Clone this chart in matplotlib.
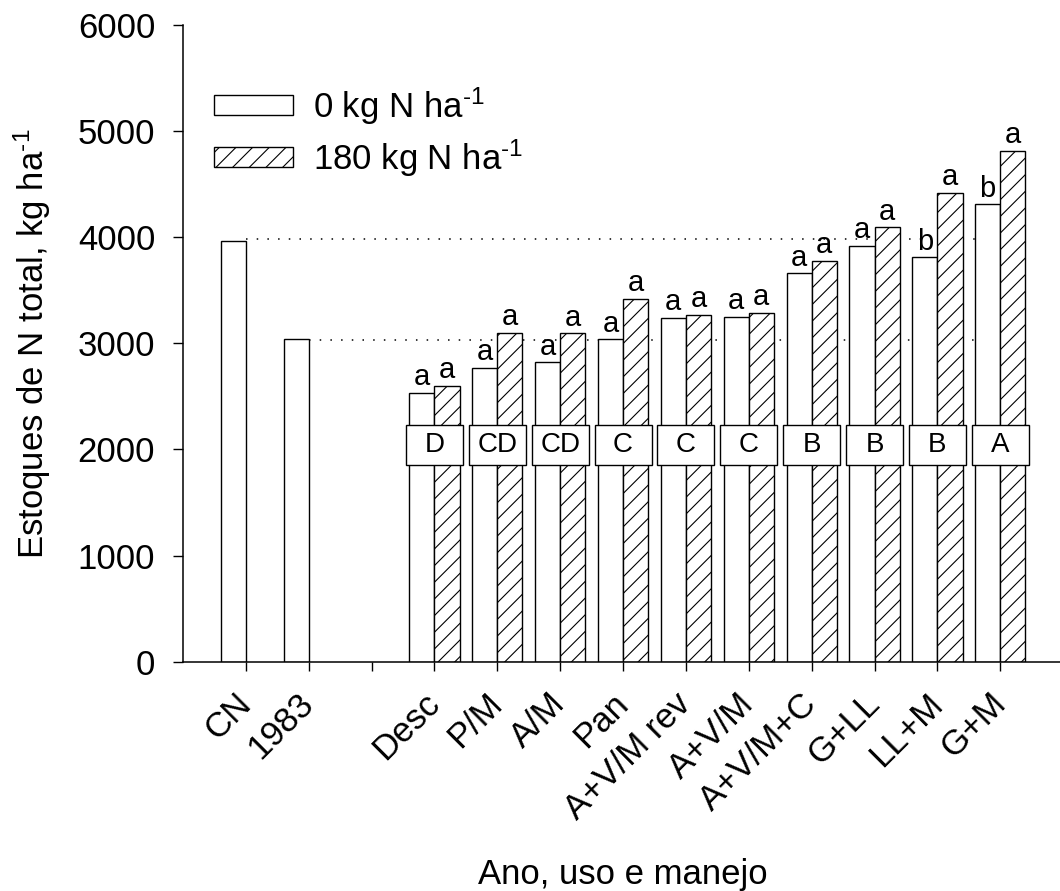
import matplotlib
matplotlib.use('Agg')
import matplotlib.pyplot as plt
from matplotlib.patches import Rectangle
import numpy as np

plt.rcParams['font.family'] = ['Liberation Sans', 'DejaVu Sans']
plt.rcParams['mathtext.fontset'] = 'custom'
plt.rcParams['mathtext.rm'] = 'Liberation Sans'
plt.rcParams['mathtext.it'] = 'Liberation Sans:italic'
plt.rcParams['hatch.linewidth'] = 0.8

FS = 25

# reference stocks: native field and 1983 baseline
ref_labels = ['CN', '1983']
ref_values = [3960, 3045]
ref_levels = [3985, 3035]

# land use / management systems
systems = ['Desc', 'P/M', 'A/M', 'Pan', 'A+V/M rev', 'A+V/M',
           'A+V/M+C', 'G+LL', 'LL+M', 'G+M']
n0 = [2535, 2770, 2820, 3040, 3240, 3250, 3660, 3920, 3810, 4310]
n180 = [2600, 3100, 3095, 3420, 3270, 3290, 3780, 4095, 4420, 4815]
letters_n0 = ['a', 'a', 'a', 'a', 'a', 'a', 'a', 'a', 'b', 'b']
letters_n180 = ['a'] * 10
group_letters = ['D', 'CD', 'CD', 'C', 'C', 'C', 'B', 'B', 'B', 'A']

tick_labels = ref_labels + [''] + systems
unit = r'ha$^{\text{-1}}$'

fig = plt.figure(figsize=(10.6, 8.91), dpi=100)
ax = fig.add_axes([0.1726, 0.2573, 0.8274, 0.7147])

w = 0.4
x_ref = np.arange(len(ref_labels))
x_sys = np.arange(len(systems)) + len(ref_labels) + 1

bar_kw = dict(width=w, edgecolor='black', linewidth=1.0, zorder=2)
ax.bar(x_ref - w / 2, ref_values, facecolor='white', **bar_kw)
b0 = ax.bar(x_sys - w / 2, n0, facecolor='white', label='0 kg N ' + unit, **bar_kw)
b1 = ax.bar(x_sys + w / 2, n180, facecolor='white', hatch='//',
            label='180 kg N ' + unit, **bar_kw)

# dotted reference lines from the CN and 1983 bars
for xi, lvl in zip(x_ref, ref_levels):
    ax.plot([xi, x_sys[-1] + 0.4], [lvl, lvl], color='black', lw=1.1,
            linestyle=(0, (1, 6)), zorder=1)

# letters over bars
for xi, v, t in zip(x_sys - w / 2, n0, letters_n0):
    ax.annotate(t, (xi, v), xytext=(0, 1), textcoords='offset points',
                ha='center', va='bottom', fontsize=21)
for xi, v, t in zip(x_sys + w / 2, n180, letters_n180):
    ax.annotate(t, (xi, v), xytext=(0, 1), textcoords='offset points',
                ha='center', va='bottom', fontsize=21)

# boxed group letters
box_w, box_h, box_y = 0.906, 372, 2040
for xi, t in zip(x_sys, group_letters):
    ax.add_patch(Rectangle((xi - box_w / 2, box_y - box_h / 2), box_w, box_h,
                           facecolor='white', edgecolor='black', lw=1.0, zorder=3))
    ax.text(xi, box_y, t, ha='center', va='center', fontsize=20, zorder=4)

ax.set_xlim(-1, 12.95)
ax.set_ylim(0, 6000)
ax.set_yticks(np.arange(0, 6001, 1000))
ax.set_xticks(np.arange(len(tick_labels)))
ax.set_xticklabels(tick_labels, rotation=45, ha='right', va='center',
                   rotation_mode='anchor', fontsize=FS)
ax.tick_params(axis='x', direction='out', length=6.5, width=1.0, pad=20)
ax.tick_params(axis='y', direction='out', length=7, width=1.0, pad=13, labelsize=FS)

for s in ['top', 'right']:
    ax.spines[s].set_visible(False)
for s in ['left', 'bottom']:
    ax.spines[s].set_linewidth(1.1)

ax.set_ylabel('Estoques de N total, kg ' + unit, fontsize=FS)
ax.yaxis.set_label_coords(-0.148, 0.5)
ax.set_xlabel('Ano, uso e manejo', fontsize=FS)
ax.xaxis.set_label_coords(0.502, -0.3085)

ax.legend(handles=[b0, b1], loc='upper left', bbox_to_anchor=(0.0353, 0.905),
          frameon=False, fontsize=FS, handlelength=2.28, handleheight=0.51,
          handletextpad=0.58, labelspacing=0.3, borderpad=0, borderaxespad=0)

fig.savefig('out.png', dpi=100, facecolor='white')
